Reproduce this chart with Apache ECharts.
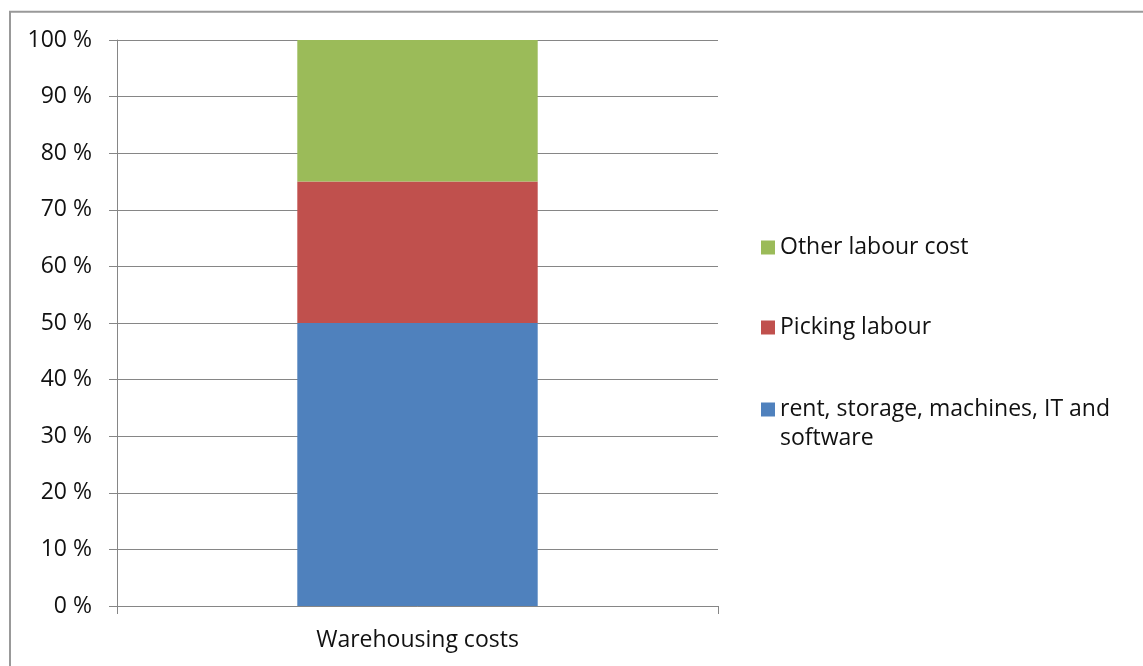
<!DOCTYPE html>
<html>
<head>
<meta charset="utf-8">
<script src="https://cdn.jsdelivr.net/npm/echarts@6/dist/echarts.min.js"></script>
<style>
  html, body { margin: 0; padding: 0; background: #fff; }
  #chart { width: 1143px; height: 666px; }
</style>
</head>
<body>
<div id="chart"></div>
<script>
// Share of warehousing costs, stacked to 100 %
const categories = ['Warehousing costs'];
const seriesNames = ['rent, storage, machines, IT and software', 'Picking labour', 'Other labour cost'];
const rentStorageIT = [50];
const pickingLabour = [25];
const otherLabour = [25];
const seriesColors = ['#4F81BD', '#C0504D', '#9BBB59'];

const FONT = 'Open Sans';
const FS = 23;
const GRAY = '#868686';

const chart = echarts.init(document.getElementById('chart'));

function legendFor(name, top) {
  return {
    show: true,
    data: [name],
    orient: 'vertical',
    left: 761,
    top: top,
    padding: 0,
    icon: 'rect',
    itemWidth: 14,
    itemHeight: 14,
    itemGap: 10,
    selectedMode: false,
    textStyle: { fontFamily: FONT, fontSize: FS, color: '#111', lineHeight: 29 },
    formatter: function (n) {
      // long label wraps after "IT and"; leading blank line keeps the marker beside line one
      return n === seriesNames[0] ? '\nrent, storage, machines, IT and\nsoftware' : n;
    }
  };
}

chart.setOption({
  animation: false,
  graphic: [{
    type: 'rect',
    shape: { x: 10, y: 11.7, width: 1200, height: 720 },
    style: { fill: 'none', stroke: '#999', lineWidth: 2 },
    silent: true
  }],
  grid: { left: 117, right: 425, top: 40, bottom: 60 },
  legend: [
    legendFor(seriesNames[2], 233),
    legendFor(seriesNames[1], 313),
    legendFor(seriesNames[0], 366)
  ],
  xAxis: {
    type: 'category',
    data: categories,
    axisLine: { lineStyle: { color: GRAY, width: 1 } },
    axisTick: { show: true, length: 8, lineStyle: { color: GRAY } },
    axisLabel: { fontFamily: FONT, fontSize: FS, color: '#111', margin: 23 }
  },
  yAxis: {
    type: 'value',
    min: 0,
    max: 100,
    interval: 10,
    axisLine: { show: true, lineStyle: { color: GRAY, width: 1 } },
    axisTick: { show: true, length: 8, lineStyle: { color: GRAY } },
    splitLine: { show: true, lineStyle: { color: GRAY, width: 1 } },
    axisLabel: { fontFamily: FONT, fontSize: FS, color: '#111', margin: 25, formatter: '{value} %' }
  },
  series: [
    { name: seriesNames[0], type: 'bar', stack: 'total', barWidth: '40%', data: rentStorageIT, itemStyle: { color: seriesColors[0] } },
    { name: seriesNames[1], type: 'bar', stack: 'total', data: pickingLabour, itemStyle: { color: seriesColors[1] } },
    { name: seriesNames[2], type: 'bar', stack: 'total', data: otherLabour, itemStyle: { color: seriesColors[2] } }
  ]
});
</script>
</body>
</html>
